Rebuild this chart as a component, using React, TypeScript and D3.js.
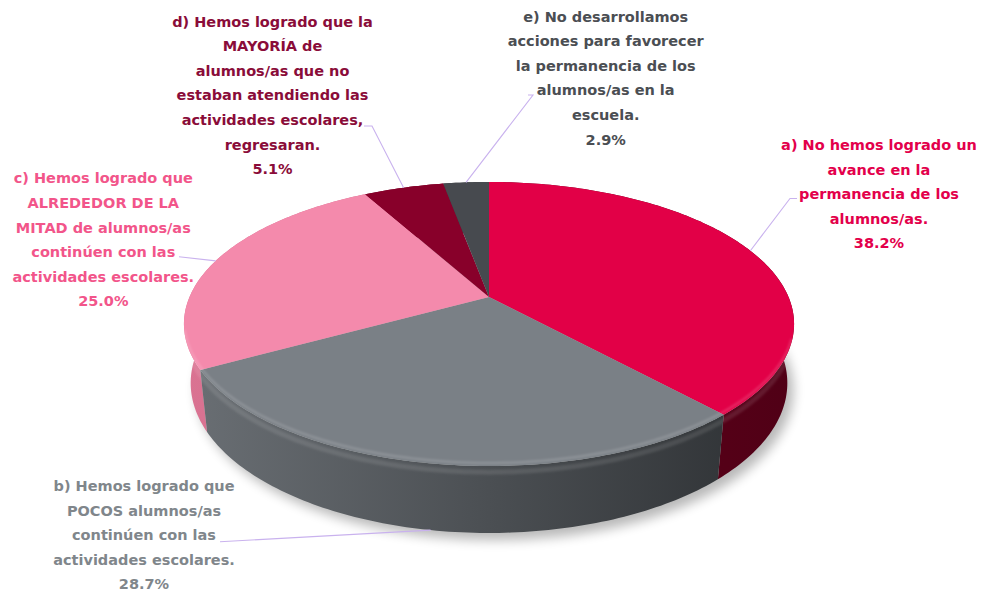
import React from "react";
import * as d3 from "d3";

// ---- data ----
const categories: string[][] = [
  ["a) No hemos logrado un", "avance en la", "permanencia de los", "alumnos/as."],
  ["b) Hemos logrado que", "POCOS alumnos/as", "continúen con las", "actividades escolares."],
  ["c) Hemos logrado que", "ALREDEDOR DE LA", "MITAD de alumnos/as", "continúen con las", "actividades escolares."],
  ["d) Hemos logrado que la", "MAYORÍA de", "alumnos/as que no", "estaban atendiendo las", "actividades escolares,", "regresaran."],
  ["e) No desarrollamos", "acciones para favorecer", "la permanencia de los", "alumnos/as en la", "escuela."],
];
const values: number[] = [38.2, 28.7, 25.0, 5.1, 2.9];

// ---- styles ----
const topColors = ["#E20047", "#7A8086", "#F48AAC", "#88002A", "#474A4F"];
const wallLeft = ["#74001F", "#6A6F74", "#DA7392", "#7A0025", "#44474B"];
const wallRight = ["#500016", "#2C2F32", "#B85A78", "#5A001C", "#2E3033"];
const textColors = ["#E3004B", "#80868B", "#F2558A", "#8A0C39", "#4B4E53"];
const leaderColor = "#C9B2EE";

// label layout: centre x, first baseline, leader start points, leader target (top / bottom rim)
const labelLayout = [
  { x: 879, y: 150, pts: [[797, 198.5], [790, 198.5]], rim: "top" },
  { x: 144, y: 491, pts: [[220, 541.7]], rim: "bottom" },
  { x: 103.3, y: 183.3, pts: [[179, 256.7]], rim: "top" },
  { x: 272.5, y: 26.5, pts: [[364, 126], [372, 126]], rim: "top" },
  { x: 605.7, y: 21.5, pts: [[528, 95], [533, 95]], rim: "top" },
];

// ---- projection (perspective 3D pie) ----
const W = 991, Hh = 592;
const cx = 489, cy = 297;
const A = 299.5; // f*R/D
const sA = 0.457, cA = Math.sqrt(1 - sA * sA);
const q = 0.2137; // R/D
const depthH = 0.223; // wall height in radius units

function proj(theta: number, Y: number): [number, number] {
  const X = Math.sin(theta), Z = Math.cos(theta);
  const dep = 1 + q * (-Y * sA + Z * cA);
  return [cx + (A * X) / dep, cy - (A * (Y * cA + Z * sA)) / dep];
}

function arcPts(a0: number, a1: number, Y: number) {
  const n = Math.max(2, Math.ceil(((a1 - a0) * 180) / Math.PI));
  return d3.range(n + 1).map((i) => proj(a0 + ((a1 - a0) * i) / n, Y));
}

const lineGen = d3.line<[number, number]>().x((d) => d[0]).y((d) => d[1]);
const lineClosed = d3.line<[number, number]>().x((d) => d[0]).y((d) => d[1]).curve(d3.curveLinearClosed);

export default function App() {
  const arcs = d3.pie<number>().sort(null).value((d) => d).startAngle(0).endAngle(2 * Math.PI)(values);

  // walls sorted far-to-near
  const wallOrder = arcs
    .map((a, i) => ({ a, i, z: Math.cos((a.startAngle + a.endAngle) / 2) }))
    .sort((p, r) => r.z - p.z);

  const shadowPts = arcPts(0, 2 * Math.PI, -depthH);
  const rimFront = arcPts(Math.PI * 0.6, Math.PI * 1.42, 0);

  return (
    <svg width={W} height={Hh} style={{ position: "absolute", left: 0, top: 0, background: "#fff" }}
      fontFamily="'DejaVu Sans', sans-serif">
      <defs>
        <filter id="blurS" x="-20%" y="-20%" width="140%" height="140%">
          <feGaussianBlur stdDeviation="6" />
        </filter>
        <filter id="blurH" x="-10%" y="-10%" width="120%" height="120%">
          <feGaussianBlur stdDeviation="1.2" />
        </filter>
        {values.map((_, i) => (
          <linearGradient key={i} id={`wall${i}`} gradientUnits="userSpaceOnUse" x1={184} y1={0} x2={794} y2={0}>
            <stop offset="0" stopColor={wallLeft[i]} />
            <stop offset="1" stopColor={wallRight[i]} />
          </linearGradient>
        ))}
      </defs>

      {/* shadow */}
      <path d={lineClosed(shadowPts) || ""} transform="translate(6,7)" fill="#000" opacity={0.28} filter="url(#blurS)" />

      {/* walls */}
      {wallOrder.map(({ a, i }) => {
        const top = arcPts(a.startAngle, a.endAngle, 0);
        const bot = arcPts(a.startAngle, a.endAngle, -depthH).reverse();
        return <path key={`w${i}`} d={lineClosed([...top, ...bot]) || ""} fill={`url(#wall${i})`} />;
      })}

      {/* wall top highlight */}
      <path d={lineGen(arcPts(Math.PI * 0.55, Math.PI * 1.45, -0.02)) || ""} fill="none" stroke="#fff" strokeOpacity={0.1} strokeWidth={5} filter="url(#blurH)" />

      {/* tops */}
      {arcs.map((a, i) => {
        const pts: [number, number][] = [[cx, cy], ...arcPts(a.startAngle, a.endAngle, 0)];
        return <path key={`t${i}`} d={lineClosed(pts) || ""} fill={topColors[i]} />;
      })}

      {/* top bevel highlight */}
      <path d={lineGen(rimFront) || ""} fill="none" stroke="#fff" strokeOpacity={0.15} strokeWidth={2.5} filter="url(#blurH)" transform="translate(0,-3)" />

      {/* leaders */}
      {arcs.map((a, i) => {
        const L = labelLayout[i];
        const mid = (a.startAngle + a.endAngle) / 2;
        const end = proj(mid, L.rim === "bottom" ? -depthH : 0);
        const pts = [...(L.pts as [number, number][]), end];
        return <path key={`l${i}`} d={lineGen(pts) || ""} fill="none" stroke={leaderColor} strokeWidth={1.1} />;
      })}

      {/* labels */}
      {arcs.map((a, i) => {
        const L = labelLayout[i];
        const lines = [...categories[i], d3.format(".1f")(values[i]) + "%"];
        return (
          <g key={`lab${i}`} fill={textColors[i]} fontSize={14.5} fontWeight={700} textAnchor="middle">
            {lines.map((t, j) => (
              <text key={j} x={L.x} y={L.y + j * 24.6}>{t}</text>
            ))}
          </g>
        );
      })}
    </svg>
  );
}
